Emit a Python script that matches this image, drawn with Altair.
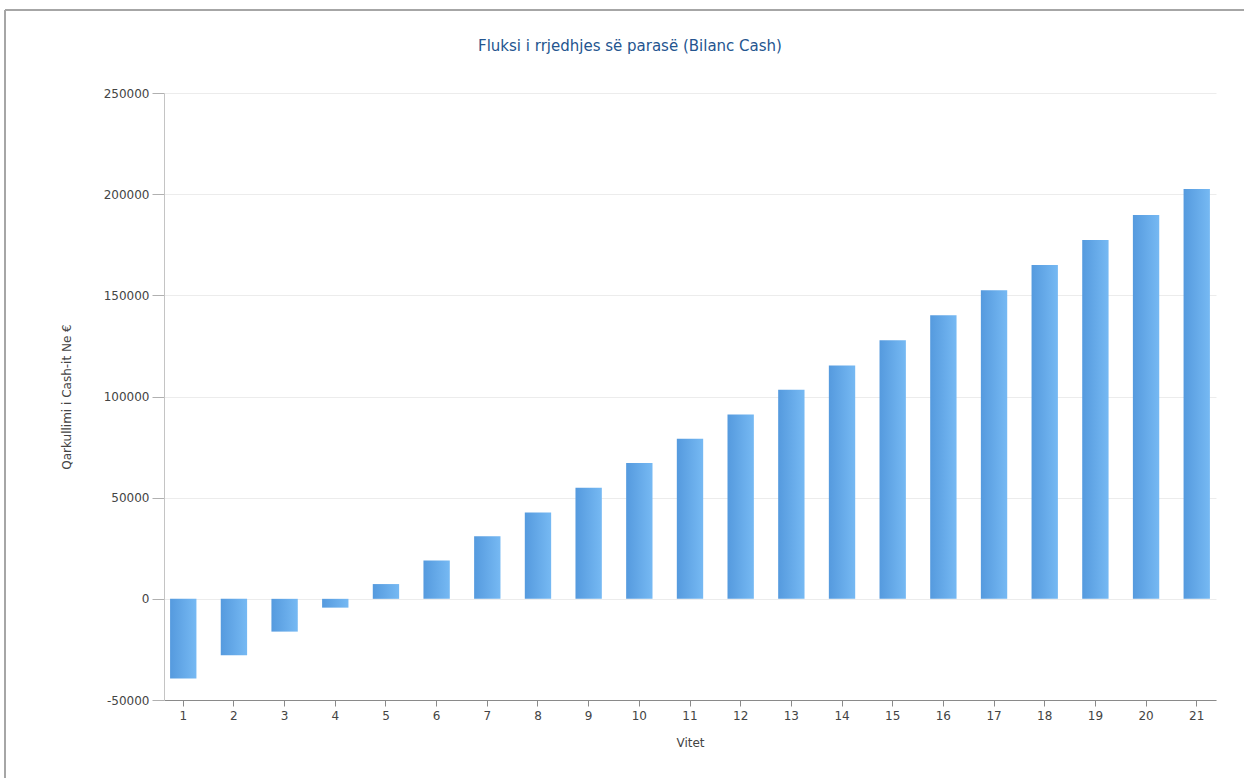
import altair as alt
import pandas as pd

# Annual cash balance (Bilanc Cash) per year of operation
years = list(range(1, 22))
cash_flow = [-39400, -27900, -16200, -4350, 7300, 19000, 30900, 42700, 54900,
             67100, 79100, 91100, 103300, 115300, 127800, 140100, 152500,
             165000, 177400, 189700, 202600]
y_ticks = [-50000, 0, 50000, 100000, 150000, 200000, 250000]

df = pd.DataFrame({"Viti": years, "Cash": cash_flow})

FONT = "DejaVu Sans"
LABEL = "#444444"

bar_fill = alt.Gradient(
    gradient="linear",
    stops=[alt.GradientStop(color="#559ade", offset=0),
           alt.GradientStop(color="#76b9f3", offset=1)],
    x1=0, x2=1, y1=0, y2=0,
)

bars = alt.Chart(df).mark_bar(color=bar_fill).encode(
    x=alt.X(
        "Viti:O",
        title="Vitet",
        scale=alt.Scale(paddingInner=0.48, paddingOuter=0.12),
        axis=alt.Axis(labelAngle=0, tickSize=6, labelPadding=4, titlePadding=16,
                      domainColor="#8a8a8a", tickColor="#8a8a8a", grid=False),
    ),
    y=alt.Y(
        "Cash:Q",
        title="Qarkullimi i Cash-it Ne €",
        scale=alt.Scale(domain=[-50000, 250000], nice=False, zero=True),
        axis=alt.Axis(values=y_ticks, labelExpr="'' + datum.value", tickSize=12,
                      labelPadding=3, titlePadding=30, domainColor="#c4c4c4",
                      tickColor="#b0b0b0", gridColor="#ececec"),
    ),
)

# Frame lines along the top and left edge of the page
frame_top = alt.Chart(df).mark_rule(color="#a6a6a6", strokeWidth=2).encode(
    x=alt.value(-159), x2=alt.value(1100), y=alt.value(-83)
)
frame_left = alt.Chart(df).mark_rule(color="#a6a6a6", strokeWidth=2).encode(
    x=alt.value(-159), y=alt.value(-83), y2=alt.value(700)
)

chart = (
    alt.layer(bars, frame_top, frame_left)
    .properties(
        width=1052,
        height=607,
        autosize=alt.AutoSizeParams(type="none"),
        padding={"left": 164, "top": 93, "right": 28, "bottom": 78},
        title=alt.TitleParams(
            "Fluksi i rrjedhjes së parasë (Bilanc Cash)",
            fontSize=15, font=FONT, fontWeight="normal", color="#24558f",
            offset=-45, dx=-60,
        ),
    )
    .configure_view(stroke=None)
    .configure_axis(
        labelFont=FONT, titleFont=FONT, labelFontSize=12, titleFontSize=12,
        labelColor=LABEL, titleColor=LABEL, titleFontWeight="normal",
    )
)

chart.save("out.html", embed_options={"renderer": "svg", "actions": False})
